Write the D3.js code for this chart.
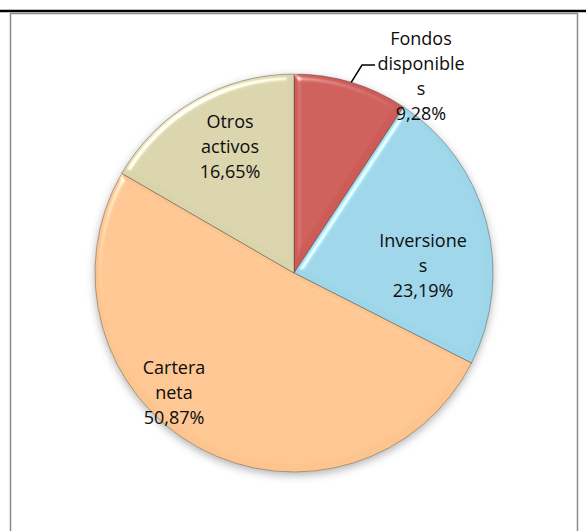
<!DOCTYPE html>
<html>
<head>
<meta charset="utf-8">
<script src="https://cdn.jsdelivr.net/npm/d3@7"></script>
<style>
  html, body { margin: 0; padding: 0; background: #fff; }
  svg { display: block; }
  .lbl { font-family: "Open Sans", sans-serif; font-size: 18px; fill: #0d0d0d; }
</style>
</head>
<body>
<div id="chart"></div>
<script>
(function(){
    "use strict";

    // -> chart data (clockwise from 12 o'clock)
    var categories = ["Fondos disponibles", "Inversiones", "Cartera neta", "Otros activos"];
    var shares     = [9.28, 23.19, 50.87, 16.65];
    // -> label lines as Excel wrapped them
    var labelLines = [
        ["Fondos", "disponible", "s", "9,28%"],
        ["Inversione", "s", "23,19%"],
        ["Cartera", "neta", "50,87%"],
        ["Otros", "activos", "16,65%"]
    ];
    var colors = ["#CD5B57", "#9DD5E9", "#FCC58F", "#DAD4AC"];

    // -> layout
    var width = 586, height = 531,
        cx = 294, cy = 273, radius = 199,
        lineH = 25;
    // label block centres, relative to pie centre
    var labelOffsets = [[127, -197], [129, -7], [-120, 120], [-64, -126]];

    var svg = d3.select("#chart").append("svg")
        .attr("width", width)
        .attr("height", height);

    var defs = svg.append("defs");

    //-> soft bevel like Excel's
    var bevel = defs.append("filter").attr("id", "bevel")
        .attr("x", "-10%").attr("y", "-10%").attr("width", "120%").attr("height", "120%");
    bevel.append("feGaussianBlur").attr("in", "SourceAlpha").attr("stdDeviation", 3).attr("result", "blur");
    bevel.append("feSpecularLighting")
        .attr("in", "blur").attr("surfaceScale", 4).attr("specularConstant", 0.8)
        .attr("specularExponent", 40).attr("lighting-color", "#ffffff").attr("result", "spec")
        .append("feDistantLight").attr("azimuth", 235).attr("elevation", 40);
    bevel.append("feComposite").attr("in", "spec").attr("in2", "SourceAlpha")
        .attr("operator", "in").attr("result", "specOut");
    bevel.append("feComposite").attr("in", "SourceGraphic").attr("in2", "specOut")
        .attr("operator", "arithmetic").attr("k1", 0).attr("k2", 1).attr("k3", 1).attr("k4", 0);

    var shadow = defs.append("filter").attr("id", "shadow")
        .attr("x", "-10%").attr("y", "-10%").attr("width", "120%").attr("height", "125%");
    shadow.append("feDropShadow").attr("dx", 0).attr("dy", 3).attr("stdDeviation", 4)
        .attr("flood-color", "#000").attr("flood-opacity", 0.3);

    //-> frame: black rule on top, grey box under it
    svg.append("line")
        .attr("x1", 0).attr("x2", width).attr("y1", 11).attr("y2", 11)
        .attr("stroke", "#000").attr("stroke-width", 2.5);
    svg.append("path")
        .attr("d", "M10.5," + height + "V13.5H577.5V" + height)
        .attr("fill", "none").attr("stroke", "#8c8c8c").attr("stroke-width", 1.5);

    var pie = d3.pie().sort(null).value(function(d) { return d; });
    var arcs = pie(shares);
    var arc = d3.arc().innerRadius(0).outerRadius(radius);
    var edgeArc = d3.arc().innerRadius(radius).outerRadius(radius);

    var g = svg.append("g").attr("transform", "translate(" + cx + "," + cy + ")");

    var slices = g.append("g").attr("filter", "url(#shadow)");
    slices.selectAll("path.slice")
        .data(arcs)
        .enter().append("path")
        .attr("class", "slice")
        .attr("d", arc)
        .attr("fill", function(d, i) { return colors[i]; })
        .attr("stroke", "rgba(40,40,40,0.5)")
        .attr("stroke-width", 0.7)
        .attr("filter", "url(#bevel)");

    //-> leader line for the small slice
    var p0 = edgeArc.centroid(arcs[0]),
        lo = labelOffsets[0];
    g.append("path")
        .attr("d", "M" + p0[0] + "," + p0[1] +
                   "L" + (lo[0] - 59) + "," + (lo[1] - 11) +
                   "H" + (lo[0] - 46))
        .attr("fill", "none").attr("stroke", "#000").attr("stroke-width", 1.5);

    //-> data labels
    var labels = g.selectAll("text.lbl")
        .data(arcs)
        .enter().append("text")
        .attr("class", "lbl")
        .attr("text-anchor", "middle");
    labels.each(function(d, i) {
        var lines = labelLines[i],
            off = labelOffsets[i],
            top = off[1] - (lines.length - 1) * lineH / 2;
        d3.select(this).selectAll("tspan")
            .data(lines)
            .enter().append("tspan")
            .attr("x", off[0])
            .attr("y", function(t, j) { return top + j * lineH + 6; })
            .text(function(t) { return t; });
    });
})();
</script>
</body>
</html>
